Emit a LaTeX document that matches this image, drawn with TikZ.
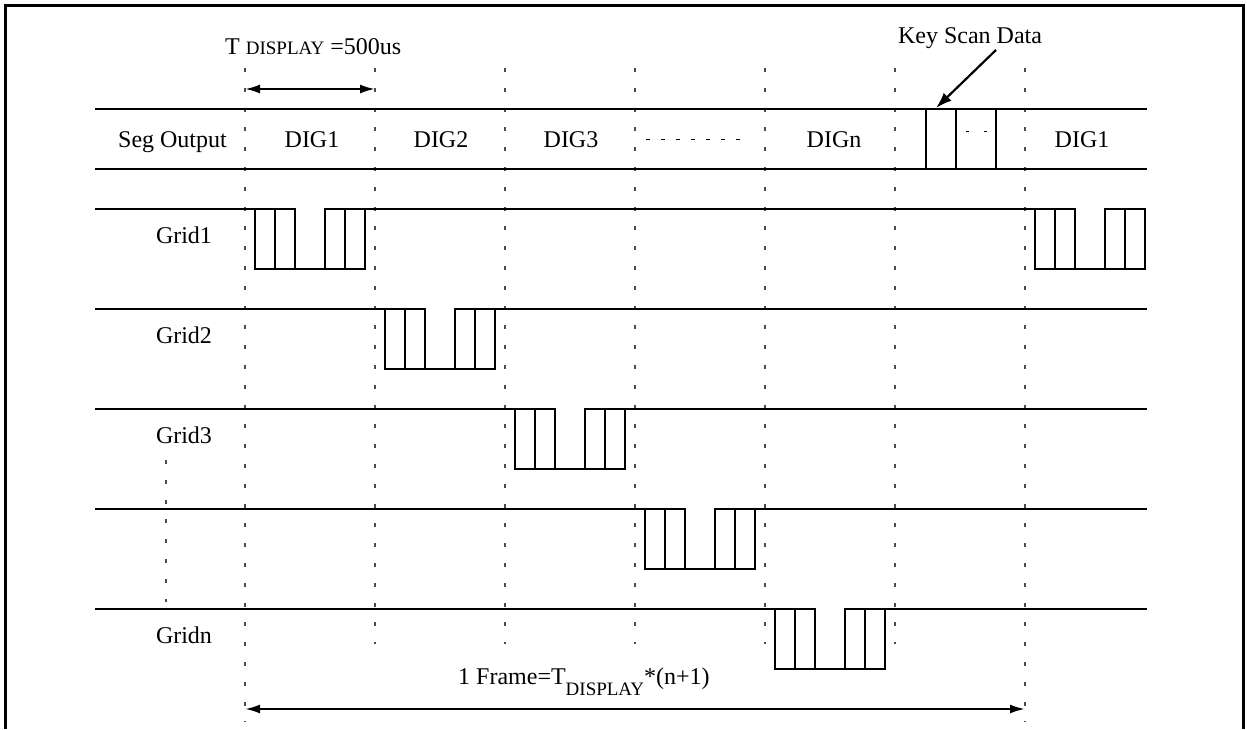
\documentclass[tikz,border=0pt]{standalone}
\usepackage{fontspec}
\setmainfont{Liberation Serif}
\usetikzlibrary{arrows.meta}
\tikzset{
  sig/.style={line width=2.2pt, line join=miter},
  frame/.style={line width=3pt},
  guide/.style={gray!60!black, line width=1.2pt, dash pattern=on 4pt off 15.8pt},
  lbl/.style={anchor=base, inner sep=0pt, font=\fontsize{24}{28}\selectfont},
  dimarrow/.style={line width=2.2pt, {Latex[length=15pt,width=9pt]}-{Latex[length=15pt,width=9pt]}},
  callout/.style={line width=2.2pt, -{Latex[length=16pt,width=11pt]}},
}
\newcommand\sigpulse[2]{%
  \draw[sig] (#1,#2) rectangle ++(20,60);
  \draw[sig] (#1+20,#2) rectangle ++(20,60);
  \draw[sig] (#1+70,#2) rectangle ++(20,60);
  \draw[sig] (#1+90,#2) rectangle ++(20,60);
  \draw[sig] (#1+40,#2+60) -- (#1+70,#2+60);
}
\begin{document}
\begin{tikzpicture}[x=1pt,y=-1pt]
\useasboundingbox (0,0) rectangle (1247,729);
% outer frame
\draw[frame] (5,729) -- (5,5) -- (1243,5) -- (1243,729);

% guide lines
\foreach \x in {375,505,635,765,895}
  \draw[guide] (\x,68) -- (\x,644);
\foreach \x in {245,1025}
  \draw[guide] (\x,68) -- (\x,722);
\draw[guide] (166,460) -- (166,602);

% Seg output bus
\draw[sig] (95,109) -- (1147,109);
\draw[sig] (95,169) -- (1147,169);
\draw[sig] (926,109) -- (926,169);
\draw[sig] (956,109) -- (956,169);
\draw[sig] (996,109) -- (996,169);
\draw[line width=1pt, dash pattern=on 4pt off 11pt] (646,139) -- (750,139);
\draw[line width=1pt, dash pattern=on 3pt off 15pt] (966,131) -- (990,131);

% labels
\node[lbl] (seg) at (172.5,147) {Seg Output};
\node[lbl] (d1) at (312,147) {DIG1};
\node[lbl] (d2) at (441,147) {DIG2};
\node[lbl] (d3) at (571,147) {DIG3};
\node[lbl] (dn) at (834,147) {DIGn};
\node[lbl] (d1b) at (1082,147) {DIG1};
\node[lbl] (g1) at (184,243) {Grid1};
\node[lbl] (g2) at (184,343) {Grid2};
\node[lbl] (g3) at (184,443) {Grid3};
\node[lbl] (gn) at (184,643) {Gridn};

% Grid1
\draw[sig] (95,209) -- (255,209);
\sigpulse{255}{209}
\draw[sig] (365,209) -- (1035,209);
\sigpulse{1035}{209}
% Grid2
\draw[sig] (95,309) -- (385,309);
\sigpulse{385}{309}
\draw[sig] (495,309) -- (1147,309);
% Grid3
\draw[sig] (95,409) -- (515,409);
\sigpulse{515}{409}
\draw[sig] (625,409) -- (1147,409);
% Grid4
\draw[sig] (95,509) -- (645,509);
\sigpulse{645}{509}
\draw[sig] (755,509) -- (1147,509);
% Gridn
\draw[sig] (95,609) -- (775,609);
\sigpulse{775}{609}
\draw[sig] (885,609) -- (1147,609);

% T display
\node[lbl, anchor=base west] (tdl) at (225,54) {T {\fontsize{19}{20}\selectfont DISPLAY} =500us};
\coordinate (td1) at (245,89);
\coordinate (td2) at (375,89);
\draw[dimarrow] (td1) -- (td2);

% Key scan data
\node[lbl] (ksd) at (970,43) {Key Scan Data};
\coordinate (ks1) at (996,50);
\coordinate (ks2) at (936,108);
\draw[callout] (ks1) -- (ks2);

% frame
\node[lbl, anchor=base west] (frm) at (458,684) {1 Frame=T\raisebox{-11pt}{\fontsize{19}{20}\selectfont DISPLAY}*(n+1)};
\coordinate (f1) at (245,709);
\coordinate (f2) at (1025,709);
\draw[dimarrow] (f1) -- (f2);
\end{tikzpicture}
\end{document}
